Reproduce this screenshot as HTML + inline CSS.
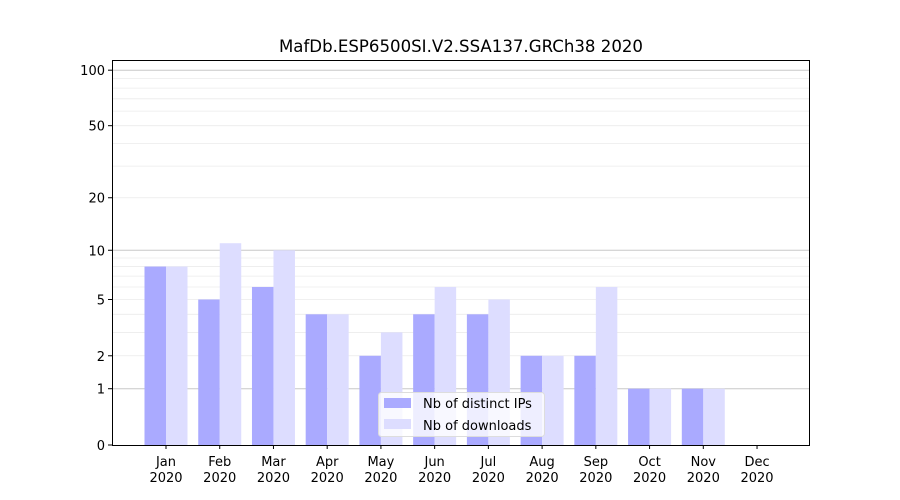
<!DOCTYPE html>
<html><head><meta charset="utf-8"><style>
body{margin:0;background:#fff}
svg{display:block;font-family:"DejaVu Sans","Liberation Sans",sans-serif}
</style></head><body>
<svg id="chart" width="900" height="500" xmlns="http://www.w3.org/2000/svg">
<rect width="900" height="500" fill="#fff"/>
<text x="461" y="52" font-size="16.6" text-anchor="middle">MafDb.ESP6500SI.V2.SSA137.GRCh38 2020</text>
<g id="grid"></g><g id="bars"></g><g id="axes"></g>
</svg>
<script>
const months=["Jan","Feb","Mar","Apr","May","Jun","Jul","Aug","Sep","Oct","Nov","Dec"];
const ips=[8,5,6,4,2,4,4,2,2,1,1,0];
const downloads=[8,11,10,4,3,6,5,2,6,1,1,0];
const yTicks=[0,1,2,5,10,20,50,100];
const NS="http://www.w3.org/2000/svg";
const L=112,R=810,T=60,B=445;
function y(v){return B-187*Math.log10(1+v);}
function x(i){return 166+i*53.73;}
function mk(p,tag,a,txt){const e=document.createElementNS(NS,tag);for(const k in a)e.setAttribute(k,a[k]);if(txt!=null)e.textContent=txt;p.appendChild(e);return e;}
const grid=document.getElementById('grid'),bars=document.getElementById('bars'),axes=document.getElementById('axes');
[2,3,4,5,6,7,8,9,20,30,40,50,60,70,80,90].forEach(v=>{
 const g=mk(grid,'line',{x1:L,x2:R,y1:y(v),y2:y(v),stroke:'#ebebeb','stroke-width':0.8});
 
 
});
[1,10,100].forEach(v=>{
 const g=mk(grid,'line',{x1:L,x2:R,y1:y(v),y2:y(v),stroke:'#c8c8c8','stroke-width':1});
 
 
});
const bw=21.5;
months.forEach((m,i)=>{
 const b1=mk(bars,'rect',{x:x(i)-bw,y:y(ips[i]),width:bw,height:B-y(ips[i]),fill:'#aaaaff'});
 
 
 const b2=mk(bars,'rect',{x:x(i),y:y(downloads[i]),width:bw,height:B-y(downloads[i]),fill:'#ddddff'});
 
 
 mk(axes,'line',{x1:x(i),x2:x(i),y1:B,y2:B+4,stroke:'#000'});
 const t=mk(axes,'text',{x:x(i),y:B+21,'font-size':13,'text-anchor':'middle'});
 
 
 mk(t,'tspan',{x:x(i)},m);mk(t,'tspan',{x:x(i),dy:16},'2020');
});
yTicks.forEach(v=>{
 mk(axes,'line',{x1:L-4,x2:L,y1:y(v),y2:y(v),stroke:'#000'});
 const t=mk(axes,'text',{x:L-7,y:y(v)+5,'font-size':13,'text-anchor':'end'},String(v));
 
 
});
const f=mk(axes,'rect',{x:L+0.5,y:T+0.5,width:R-L-1,height:B-T,fill:'none',stroke:'#000','stroke-width':1});


const lg=mk(axes,'g',{});


mk(lg,'rect',{x:378.5,y:392.5,width:166,height:44,rx:3,fill:'#fff','fill-opacity':0.8,stroke:'#ddd'});
mk(lg,'rect',{x:384,y:398,width:27,height:10,fill:'#aaaaff'});
mk(lg,'rect',{x:384,y:419,width:27,height:10,fill:'#ddddff'});
mk(lg,'text',{x:423,y:408,'font-size':13},'Nb of distinct IPs');
mk(lg,'text',{x:423,y:430,'font-size':13},'Nb of downloads');
</script>
</body></html>
